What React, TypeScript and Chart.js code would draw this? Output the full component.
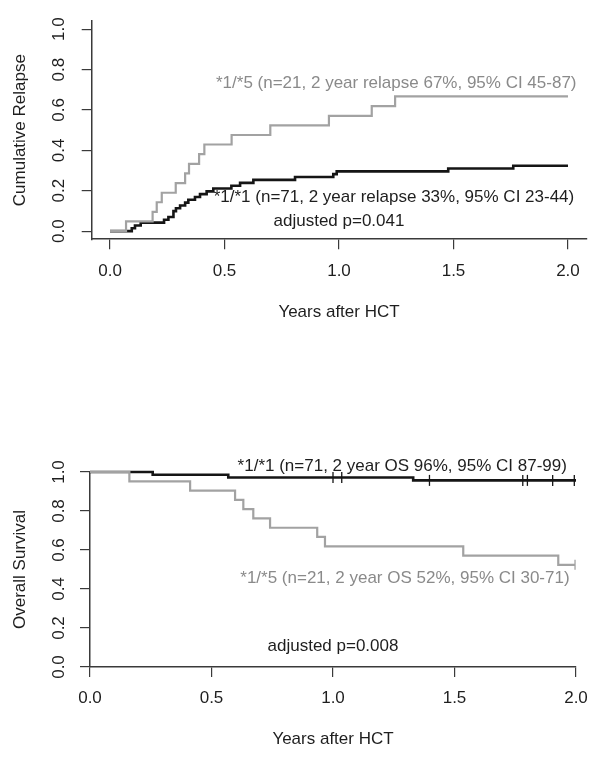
import React, { useEffect, useRef } from "react";
import { Chart, registerables } from "chart.js";

Chart.register(...registerables);

const FONT = '"Liberation Sans", Arial, Helvetica, sans-serif';
Chart.defaults.font.family = FONT;

// ---- tick values ----
const X_TICKS = [0, 0.5, 1, 1.5, 2];
const Y_TICKS = [0, 0.2, 0.4, 0.6, 0.8, 1];

// ---- top panel: cumulative relapse ----
const REL_15_T = [0, 0.07, 0.186, 0.204, 0.226, 0.287, 0.328, 0.345, 0.389, 0.412, 0.531, 0.7, 0.956, 1.143, 1.245, 2.0];
const REL_15_V = [0, 0.048, 0.095, 0.143, 0.19, 0.238, 0.286, 0.333, 0.381, 0.429, 0.476, 0.524, 0.571, 0.619, 0.667, 0.667];
const REL_11_T = [0, 0.095, 0.109, 0.134, 0.236, 0.255, 0.277, 0.288, 0.306, 0.328, 0.342, 0.371, 0.393, 0.422, 0.451, 0.53, 0.568, 0.626, 0.808, 0.975, 0.99, 1.477, 1.761, 2.0];
const REL_11_V = [0, 0.014, 0.028, 0.042, 0.056, 0.07, 0.099, 0.113, 0.127, 0.141, 0.155, 0.169, 0.183, 0.197, 0.211, 0.225, 0.239, 0.254, 0.268, 0.282, 0.296, 0.31, 0.324, 0.324];

const TOP_TEXTS = [
  "*1/*5 (n=21, 2 year relapse 67%, 95% CI 45-87)",
  "*1/*1 (n=71, 2 year relapse 33%, 95% CI 23-44)",
  "adjusted p=0.041",
];
const TOP_TEXT_X = [1.25, 1.24, 1.0];
const TOP_TEXT_Y = [0.733, 0.165, 0.049];

// ---- bottom panel: overall survival ----
const OS_15_T = [0, 0.162, 0.412, 0.597, 0.631, 0.672, 0.741, 0.935, 0.967, 1.536, 1.927, 1.996];
const OS_15_V = [1, 0.952, 0.905, 0.857, 0.81, 0.762, 0.714, 0.667, 0.619, 0.571, 0.524, 0.524];
const OS_11_T = [0, 0.258, 0.569, 1.33, 2.0];
const OS_11_V = [1, 0.986, 0.972, 0.957, 0.957];
const OS_11_CENS_T = [1.0, 1.036, 1.397, 1.781, 1.8, 1.904, 1.993];
const OS_11_CENS_V = [0.972, 0.972, 0.957, 0.957, 0.957, 0.957, 0.957];
const OS_15_CENS_T = [1.996];
const OS_15_CENS_V = [0.524];

const BOT_TEXTS = [
  "*1/*1 (n=71, 2 year OS 96%, 95% CI 87-99)",
  "*1/*5 (n=21, 2 year OS 52%, 95% CI 30-71)",
  "adjusted p=0.008",
];
const BOT_TEXT_X = [1.285, 1.296, 1.0];
const BOT_TEXT_Y = [1.03, 0.455, 0.104];

// ---- styles ----
const BLACK = "#151515";
const GRAY_LINE = "#a2a2a2";
const GRAY_TEXT = "#8a8a8a";
const AXIS = "#3a3a3a";
const TEXT = "#1e1e1e";
const FS = 17;

const pts = (t: number[], v: number[]) => t.map((x, i) => ({ x, y: v[i] }));

function annotPlugin(texts: string[], xs: number[], ys: number[], colors: string[]) {
  return {
    id: "annot",
    afterDatasetsDraw(chart: any) {
      const { ctx, scales } = chart;
      ctx.save();
      ctx.font = `${FS}px ${FONT}`;
      ctx.textAlign = "center";
      ctx.textBaseline = "middle";
      texts.forEach((t, i) => {
        ctx.fillStyle = colors[i];
        ctx.fillText(t, scales.x.getPixelForValue(xs[i]), scales.y.getPixelForValue(ys[i]));
      });
      ctx.restore();
    },
  };
}

interface PanelCfg {
  xMin: number; xMax: number; yMin: number; yMax: number;
  padTop: number; padRight: number; yWidth: number; xHeight: number;
  xTickPad: number; yTickPad: number; xTitlePad: number; yTitle: string;
}

function makeScales(c: PanelCfg) {
  return {
    x: {
      type: "linear",
      min: c.xMin,
      max: c.xMax,
      afterBuildTicks: (s: any) => { s.ticks = X_TICKS.map((v) => ({ value: v })); },
      afterFit: (s: any) => { s.height = c.xHeight; },
      border: { display: true, color: AXIS, width: 1.5 },
      grid: { drawOnChartArea: false, drawTicks: true, tickLength: 10, color: AXIS, lineWidth: 1.2 },
      ticks: {
        padding: c.xTickPad, color: TEXT, font: { size: FS },
        maxRotation: 0, minRotation: 0, autoSkip: false,
        callback: (v: any) => Number(v).toFixed(1),
      },
      title: { display: true, text: "Years after HCT", color: TEXT, font: { size: FS }, padding: { top: 0, bottom: c.xTitlePad } },
    },
    y: {
      type: "linear",
      min: c.yMin,
      max: c.yMax,
      afterBuildTicks: (s: any) => { s.ticks = Y_TICKS.map((v) => ({ value: v })); },
      afterFit: (s: any) => { s.width = c.yWidth; },
      border: { display: true, color: AXIS, width: 1.5 },
      grid: { drawOnChartArea: false, drawTicks: true, tickLength: 10, color: AXIS, lineWidth: 1.2 },
      ticks: {
        minRotation: 90, maxRotation: 90, crossAlign: "center",
        padding: c.yTickPad, color: TEXT, font: { size: FS }, autoSkip: false,
        callback: (v: any) => Number(v).toFixed(1),
      },
      title: { display: true, text: c.yTitle, color: TEXT, font: { size: FS }, padding: { top: 10, bottom: 0 } },
    },
  };
}

function baseOptions(c: PanelCfg) {
  return {
    responsive: false,
    animation: false,
    events: [],
    layout: { padding: { top: c.padTop, right: c.padRight, bottom: 0, left: 0 } },
    plugins: { legend: { display: false }, tooltip: { enabled: false }, title: { display: false } },
    scales: makeScales(c),
  };
}

const lineDs = (data: any[], color: string, width: number) => ({
  data, borderColor: color, borderWidth: width, stepped: "before", pointRadius: 0,
  fill: false, clip: false, tension: 0,
});

const censorDs = (data: any[], color: string, r: number) => ({
  data, showLine: false, borderColor: color, backgroundColor: color,
  pointStyle: "line", rotation: 90, pointRadius: r, pointBorderWidth: 1.3,
  pointBorderColor: color, clip: false,
});

export default function App() {
  const topRef = useRef<HTMLCanvasElement>(null);
  const botRef = useRef<HTMLCanvasElement>(null);

  useEffect(() => {
    const topCfg: PanelCfg = {
      xMin: -0.08, xMax: 2.08, yMin: -0.04, yMax: 1.04,
      padTop: 16.8, padRight: 15.7, yWidth: 91.7, xHeight: 141.8,
      xTickPad: 11.5, yTickPad: 10.9, xTitlePad: 58.8, yTitle: "Cumulative Relapse",
    };
    const botCfg: PanelCfg = {
      xMin: 0, xMax: 2, yMin: 0, yMax: 1,
      padTop: 91, padRight: 26, yWidth: 90, xHeight: 95,
      xTickPad: 10.8, yTickPad: 9.2, xTitlePad: 12.8, yTitle: "Overall Survival",
    };

    const top = new Chart(topRef.current as HTMLCanvasElement, {
      type: "line",
      data: {
        datasets: [
          lineDs(pts(REL_15_T, REL_15_V), GRAY_LINE, 2.2),
          lineDs(pts(REL_11_T, REL_11_V), BLACK, 2.6),
        ],
      } as any,
      options: baseOptions(topCfg) as any,
      plugins: [annotPlugin(TOP_TEXTS, TOP_TEXT_X, TOP_TEXT_Y, [GRAY_TEXT, TEXT, TEXT])],
    });

    const bot = new Chart(botRef.current as HTMLCanvasElement, {
      type: "line",
      data: {
        datasets: [
          censorDs(pts(OS_15_CENS_T, OS_15_CENS_V), GRAY_LINE, 5),
          censorDs(pts(OS_11_CENS_T, OS_11_CENS_V), BLACK, 5.5),
          lineDs(pts(OS_15_T, OS_15_V), GRAY_LINE, 2.2),
          lineDs(pts(OS_11_T, OS_11_V), BLACK, 2.6),
        ],
      } as any,
      options: baseOptions(botCfg) as any,
      plugins: [annotPlugin(BOT_TEXTS, BOT_TEXT_X, BOT_TEXT_Y, [TEXT, GRAY_TEXT, TEXT])],
    });

    return () => {
      top.destroy();
      bot.destroy();
    };
  }, []);

  return (
    <div style={{ position: "absolute", left: 0, top: 0, width: 602, height: 762, background: "#fff" }}>
      <canvas ref={topRef} width={602} height={381} style={{ display: "block", width: 602, height: 381 }} />
      <canvas ref={botRef} width={602} height={381} style={{ display: "block", width: 602, height: 381 }} />
    </div>
  );
}
